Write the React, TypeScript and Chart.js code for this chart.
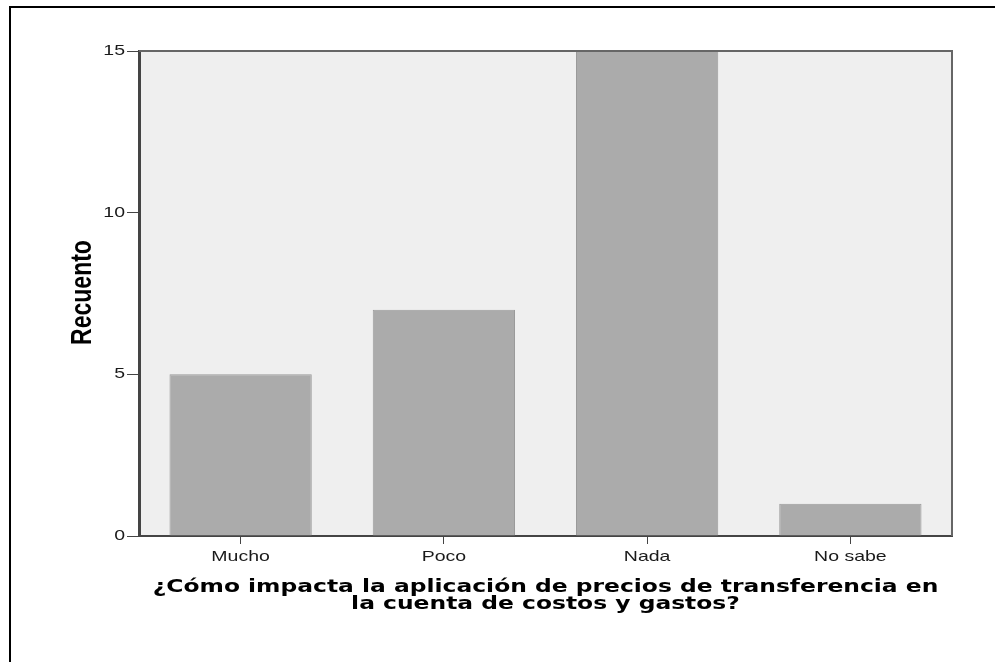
import React, { useEffect, useRef } from "react";
import { Chart, registerables } from "chart.js";

Chart.register(...registerables);

const categories = ["Mucho", "Poco", "Nada", "No sabe"];
const counts = [5, 7, 15, 1];
const yTicks = [0, 5, 10, 15];
const yTitle = "Recuento";
const xTitle = [
  "¿Cómo impacta la aplicación de precios de transferencia en",
  "la cuenta de costos y gastos?",
];

const SX = 1.3;

function stretchedText(ctx: any, text: string, x: number, y: number, align: string) {
  ctx.save();
  ctx.translate(x, y);
  ctx.scale(SX, 1);
  ctx.textAlign = align;
  ctx.textBaseline = "middle";
  ctx.fillText(text, 0, 0);
  ctx.restore();
}

const plotFrame = {
  id: "plotFrame",
  beforeDraw(chart: any) {
    const { ctx, chartArea } = chart;
    ctx.save();
    ctx.fillStyle = "#efefef";
    ctx.fillRect(chartArea.left, chartArea.top, chartArea.right - chartArea.left, chartArea.bottom - chartArea.top);
    ctx.restore();
  },
  afterDraw(chart: any) {
    const { ctx, chartArea, scales } = chart;
    ctx.save();
    ctx.strokeStyle = "#666";
    ctx.lineWidth = 2;
    ctx.beginPath();
    ctx.moveTo(chartArea.left, chartArea.top);
    ctx.lineTo(chartArea.right, chartArea.top);
    ctx.lineTo(chartArea.right, chartArea.bottom);
    ctx.stroke();

    // tick labels
    ctx.fillStyle = "#1a1a1a";
    ctx.font = "15px 'Liberation Sans', Arial, sans-serif";
    categories.forEach((lab, i) => {
      stretchedText(ctx, lab, scales.x.getPixelForValue(i), chartArea.bottom + 21, "center");
    });
    yTicks.forEach((v) => {
      stretchedText(ctx, String(v), chartArea.left - 14, scales.y.getPixelForValue(v), "right");
    });

    // x title
    ctx.fillStyle = "#000";
    ctx.font = "bold 18px 'DejaVu Sans', Verdana, sans-serif";
    const cx = (chartArea.left + chartArea.right) / 2;
    xTitle.forEach((line, i) => {
      stretchedText(ctx, line, cx, chartArea.bottom + 51 + i * 17, "center");
    });

    // y title
    ctx.font = "bold 23px 'Liberation Sans', Arial, sans-serif";
    ctx.save();
    ctx.translate(83, (chartArea.top + chartArea.bottom) / 2 - 1);
    ctx.scale(SX, 1);
    ctx.rotate(-Math.PI / 2);
    ctx.textAlign = "center";
    ctx.textBaseline = "middle";
    ctx.fillText(yTitle, 0, 0);
    ctx.restore();

    ctx.restore();
  },
};

export default function App() {
  const ref = useRef<HTMLCanvasElement>(null);
  useEffect(() => {
    const c = new Chart(ref.current!, {
      type: "bar",
      data: {
        labels: categories,
        datasets: [
          {
            data: counts,
            backgroundColor: "#ababab",
            borderColor: "#9a9a9a",
            borderWidth: 1,
            barPercentage: 0.7,
            categoryPercentage: 1,
          },
        ],
      },
      plugins: [plotFrame],
      options: {
        animation: false,
        responsive: false,
        layout: { padding: { left: 0, top: 51, right: 43, bottom: 0 } },
        plugins: { legend: { display: false }, tooltip: { enabled: false } },
        scales: {
          x: {
            afterFit: (s: any) => {
              s.height = 126;
            },
            grid: {
              drawOnChartArea: false,
              tickLength: 8,
              color: "#444",
              lineWidth: 1,
              offset: false,
            },
            border: { color: "#444", width: 2 },
            ticks: { display: false },
            title: { display: false },
          },
          y: {
            min: 0,
            max: 15,
            afterFit: (s: any) => {
              s.width = 139;
            },
            afterBuildTicks: (s: any) => {
              s.ticks = yTicks.map((v) => ({ value: v }));
            },
            grid: {
              drawOnChartArea: false,
              tickLength: 12,
              color: "#444",
              lineWidth: 1,
            },
            border: { color: "#444", width: 3 },
            ticks: { display: false },
            title: { display: false },
          },
        },
      },
    });
    return () => c.destroy();
  }, []);
  return (
    <div style={{ position: "fixed", left: 0, top: 0, width: 995, height: 662, overflow: "hidden", background: "#fff" }}>
      <div
        style={{
          position: "absolute",
          left: 9,
          top: 6,
          width: 1100,
          height: 800,
          borderTop: "2px solid #000",
          borderLeft: "2px solid #000",
        }}
      />
      <canvas ref={ref} width={995} height={662} style={{ position: "absolute", left: 0, top: 0 }} />
    </div>
  );
}
